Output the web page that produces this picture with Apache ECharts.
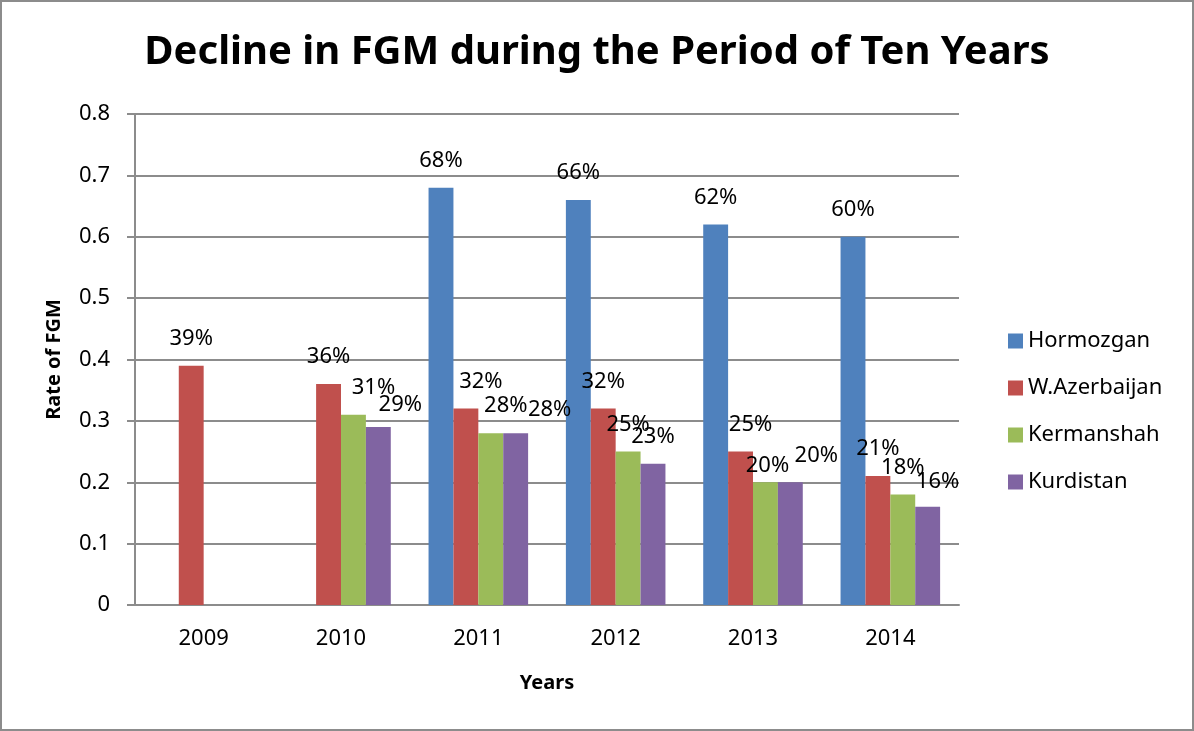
<!DOCTYPE html>
<html>
<head>
<meta charset="utf-8">
<script src="https://cdn.jsdelivr.net/npm/echarts@6/dist/echarts.min.js"></script>
<style>
  html, body { margin: 0; padding: 0; background: #fff; }
  #chart { width: 1194px; height: 731px; box-sizing: border-box; border: 2px solid #8c8c8c; }
</style>
</head>
<body>
<div id="chart"></div>
<script>
const years = ['2009', '2010', '2011', '2012', '2013', '2014']
const hormozgan = [null, null, 0.68, 0.66, 0.62, 0.60]
const wAzerbaijan = [0.39, 0.36, 0.32, 0.32, 0.25, 0.21]
const kermanshah = [null, 0.31, 0.28, 0.25, 0.20, 0.18]
const kurdistan = [null, 0.29, 0.28, 0.23, 0.20, 0.16]

// Excel nudged some overlapping data labels sideways; [dx, dy] per series and year
const labelNudge = [
  [[0, 0], [0, 0], [0, 0], [0, 0], [0, 0], [0, 0]],
  [[0, 0], [0, 0], [15, 0], [0, 0], [10, 0], [0, 0]],
  [[0, 0], [20, 0], [15, 0], [0, 0], [2, 10], [0, 0]],
  [[0, 0], [22, 5], [34, 4], [0, 0], [26, 0], [10, 2]]
]

const font = 'Noto Sans'

const makeSeries = (name, data, color, idx) => ({
  name: name,
  type: 'bar',
  data: data,
  barGap: '0%',
  barCategoryGap: '27.5%',
  itemStyle: { color: color },
  label: {
    show: true,
    position: 'top',
    distance: 16,
    color: '#000',
    fontFamily: font,
    fontSize: 22,
    formatter: p => Math.round(p.value * 100) + '%'
  },
  labelLayout: p => {
    const n = labelNudge[idx][p.dataIndex]
    return { dx: n[0], dy: n[1] }
  }
})

const options = {
  animation: false,
  title: {
    text: 'Decline in FGM during the Period of Ten Years',
    left: 'center',
    top: 26,
    textStyle: { fontFamily: font, fontWeight: 'bold', fontSize: 40, color: '#000' }
  },
  grid: { left: 133, right: 233, top: 112, bottom: 124, containLabel: false },
  legend: {
    orient: 'vertical',
    left: 1001,
    top: 323,
    itemWidth: 15,
    itemHeight: 15,
    itemGap: 25,
    icon: 'rect',
    textStyle: { fontFamily: font, fontSize: 22, color: '#000' },
    data: ['Hormozgan', 'W.Azerbaijan', 'Kermanshah', 'Kurdistan']
  },
  xAxis: {
    type: 'category',
    data: years,
    name: 'Years',
    nameLocation: 'middle',
    nameGap: 68,
    nameTextStyle: { fontFamily: font, fontWeight: 'bold', fontSize: 20, color: '#000' },
    axisLine: { lineStyle: { color: '#8c8c8c', width: 2 } },
    axisTick: { show: false },
    axisLabel: { fontFamily: font, fontSize: 22, color: '#000', margin: 23 }
  },
  yAxis: {
    type: 'value',
    min: 0,
    max: 0.8,
    interval: 0.1,
    name: 'Rate of FGM',
    nameLocation: 'middle',
    nameGap: 71,
    nameTextStyle: { fontFamily: font, fontWeight: 'bold', fontSize: 20, color: '#000' },
    axisLine: { show: true, lineStyle: { color: '#8c8c8c', width: 2 } },
    axisTick: { show: true, length: 8, lineStyle: { color: '#8c8c8c', width: 2 } },
    splitLine: { lineStyle: { color: '#8c8c8c', width: 2 } },
    axisLabel: {
      fontFamily: font,
      fontSize: 22,
      color: '#000',
      margin: 25,
      formatter: v => (v === 0 ? '0' : v.toFixed(1))
    }
  },
  series: [
    makeSeries('Hormozgan', hormozgan, '#4f81bd', 0),
    makeSeries('W.Azerbaijan', wAzerbaijan, '#c0504d', 1),
    makeSeries('Kermanshah', kermanshah, '#9bbb59', 2),
    makeSeries('Kurdistan', kurdistan, '#8064a2', 3)
  ]
}

const chart = echarts.init(document.getElementById('chart'))
chart.setOption(options)
window.addEventListener('resize', function () {
  chart && chart.resize()
})
</script>
</body>
</html>
